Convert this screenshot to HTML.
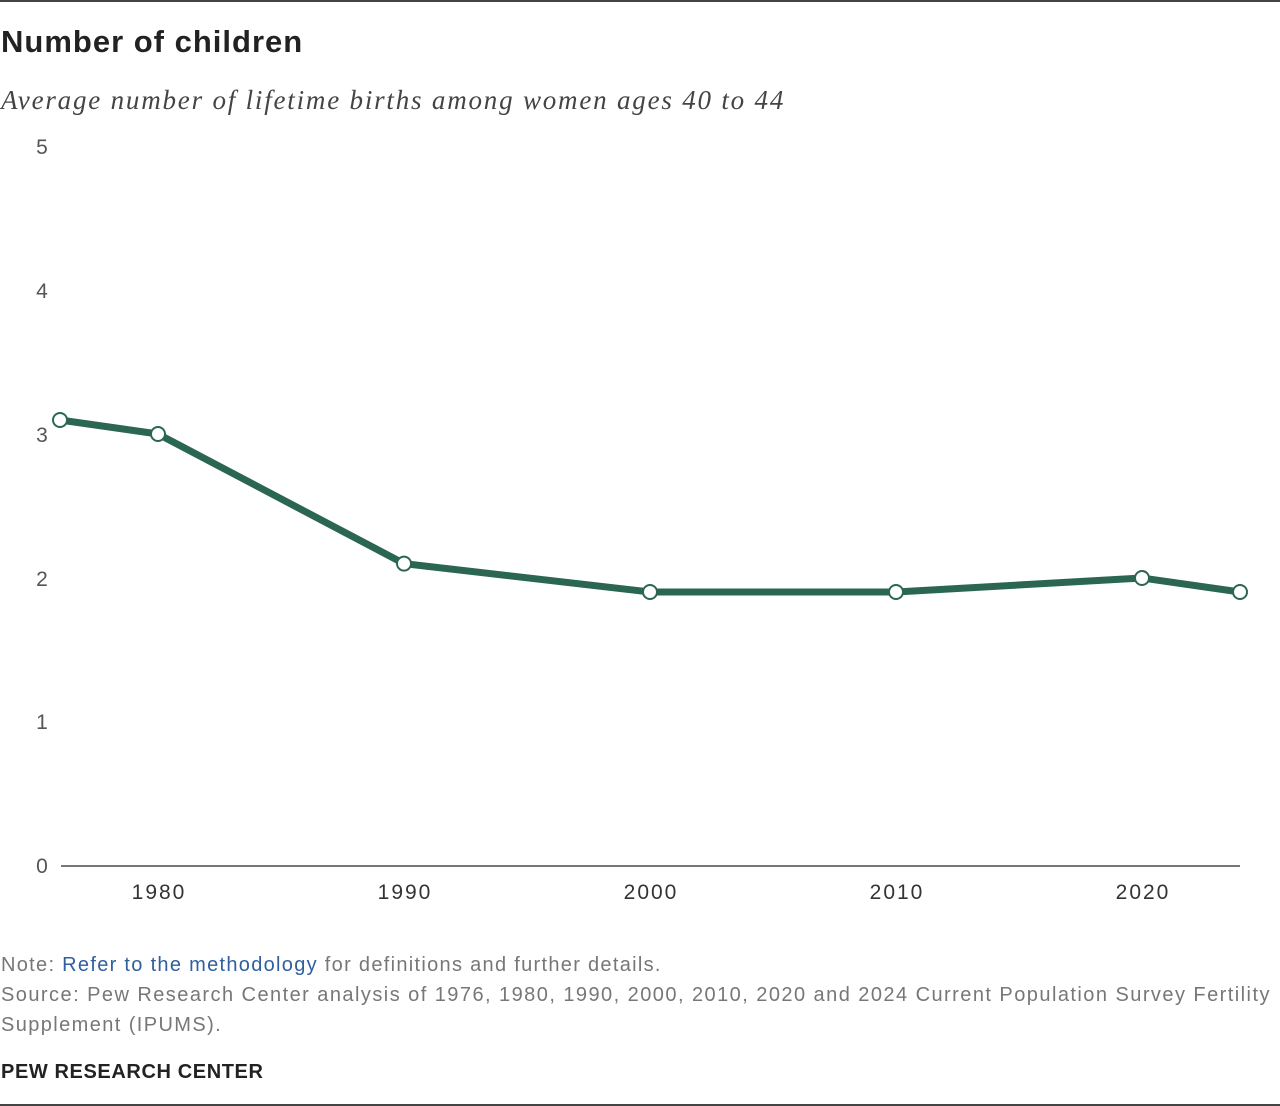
<!DOCTYPE html>
<html><head><meta charset="utf-8"><style>
body{margin:0;width:1280px;height:1106px;background:#fff;position:relative;overflow:hidden;font-family:"Liberation Sans",sans-serif}
.t{position:absolute;white-space:nowrap}
</style></head><body>
<div style="position:absolute;left:0;top:0;width:1280px;height:2px;background:#444"></div>
<div style="position:absolute;left:0;top:1104px;width:1280px;height:2px;background:#444"></div>
<div class="t" style="left:1px;top:24px;font-size:31px;font-weight:bold;color:#222;letter-spacing:1px">Number of children</div>
<div class="t" style="left:1px;top:85px;font-size:27px;font-style:italic;font-family:'Liberation Serif',serif;color:#444;letter-spacing:1.8px">Average number of lifetime births among women ages 40 to 44</div>
<svg style="position:absolute;left:0;top:0" width="1280" height="1106">
<g font-family="Liberation Sans,sans-serif" font-size="21" fill="#555" text-anchor="middle">
<text x="42" y="154">5</text><text x="42" y="298">4</text><text x="42" y="442">3</text>
<text x="42" y="586">2</text><text x="42" y="729">1</text><text x="42" y="873">0</text>
<g fill="#333" letter-spacing="2"><text x="159" y="899">1980</text><text x="405" y="899">1990</text><text x="651" y="899">2000</text>
<text x="897" y="899">2010</text><text x="1143" y="899">2020</text></g>
</g>
<line x1="61" y1="866" x2="1240" y2="866" stroke="#777" stroke-width="2"/>
<polyline points="60,420 158,434 404,563.6 650,592 896,592 1142,578 1240,592" fill="none" stroke="#2b6653" stroke-width="7" stroke-linejoin="round"/>
<g fill="#fff" stroke="#2b6653" stroke-width="2">
<circle cx="60" cy="420" r="7"/><circle cx="158" cy="434" r="7"/><circle cx="404" cy="563.6" r="7"/><circle cx="650" cy="592" r="7"/><circle cx="896" cy="592" r="7"/><circle cx="1142" cy="578" r="7"/><circle cx="1240" cy="592" r="7"/>
</g>
</svg>
<div class="t" style="left:1px;top:954px;font-size:20px;color:#777;letter-spacing:1.3px">Note: <span style="color:#2f5f9e">Refer to the methodology</span> for definitions and further details.</div>
<div class="t" style="left:1px;top:984px;font-size:20px;color:#777;letter-spacing:1.45px">Source: Pew Research Center analysis of 1976, 1980, 1990, 2000, 2010, 2020 and 2024 Current Population Survey Fertility</div>
<div class="t" style="left:1px;top:1014px;font-size:20px;color:#777;letter-spacing:1.4px">Supplement (IPUMS).</div>
<div class="t" style="left:1px;top:1061px;font-size:20px;font-weight:bold;color:#222;letter-spacing:0.6px">PEW RESEARCH CENTER</div>
</body></html>
